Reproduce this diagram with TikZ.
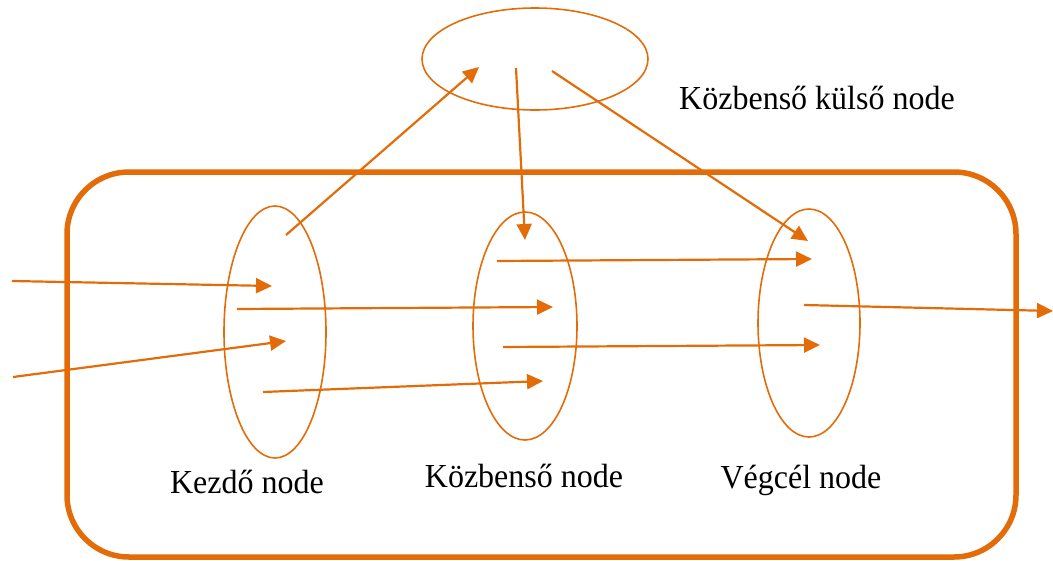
\documentclass[tikz,border=0pt]{standalone}
\usepackage{fontspec}
\setmainfont{Liberation Serif}
\usetikzlibrary{arrows.meta,shapes.geometric}
\definecolor{accent}{HTML}{E36C09}
\begin{document}
\begin{tikzpicture}[x=1pt,y=-1pt,
  frame/.style={draw=accent,line width=5.5pt,rounded corners=62pt},
  group/.style={ellipse,draw=accent,line width=1.6pt,inner sep=0pt},
  flow/.style={draw=accent,line width=2.2pt,-{Triangle[length=16pt,width=15pt]}},
  caption/.style={font=\fontsize{32}{37}\selectfont,inner sep=0pt,yscale=1.05}]
\useasboundingbox (0,0) rectangle (1053,560);
% outer boundary
\draw[frame] (67,172) rectangle (1016,557);
% groups of nodes
\node[group,minimum width=226pt,minimum height=102pt] (outer) at (535,59) {};
\node[group,minimum width=102pt,minimum height=252pt] (start) at (275,332) {};
\node[group,minimum width=104pt,minimum height=228pt] (mid) at (525,326) {};
\node[group,minimum width=102pt,minimum height=228pt] (goal) at (809,323) {};
% labels
\node[caption] (lo) at (817,98) {Közbenső külső node};
\node[caption] (ls) at (247,482) {Kezdő node};
\node[caption] (lm) at (524,476) {Közbenső node};
\node[caption] (lg) at (801,480) {Végcél node};
% arrow end points
\coordinate (in1) at (12,281);
\coordinate (in2) at (13,377);
\coordinate (s1) at (272,286);
\coordinate (s2) at (286,341);
\coordinate (s3) at (237,309);
\coordinate (s4) at (263,392);
\coordinate (s5) at (286,235);
\coordinate (o1) at (479,67);
\coordinate (o2) at (516,68);
\coordinate (o3) at (552,71);
\coordinate (m1) at (553,307);
\coordinate (m2) at (543,381);
\coordinate (m3) at (525,240);
\coordinate (m4) at (497,261);
\coordinate (m5) at (503,347);
\coordinate (g1) at (808,241);
\coordinate (g2) at (812,259);
\coordinate (g3) at (820,345);
\coordinate (g4) at (804,305);
\coordinate (out) at (1053,311);
% connectors
\draw[flow] (in1) -- (s1);
\draw[flow] (in2) -- (s2);
\draw[flow] (s3) -- (m1);
\draw[flow] (s4) -- (m2);
\draw[flow] (s5) -- (o1);
\draw[flow] (o2) -- (m3);
\draw[flow] (o3) -- (g1);
\draw[flow] (m4) -- (g2);
\draw[flow] (m5) -- (g3);
\draw[flow] (g4) -- (out);
\end{tikzpicture}
\end{document}
